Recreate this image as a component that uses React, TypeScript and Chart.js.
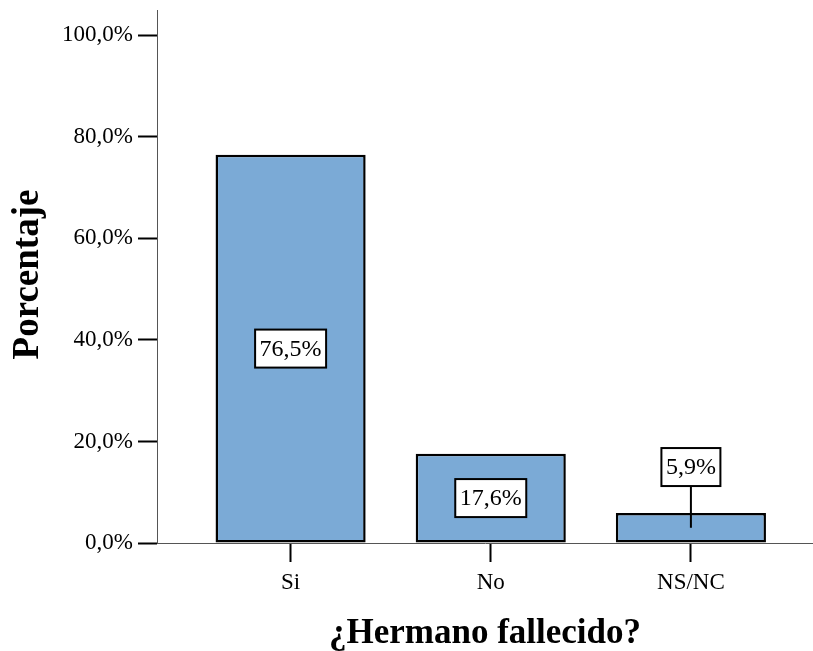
import React, { useEffect, useRef } from "react";
import { Chart, registerables } from "chart.js";

Chart.register(...registerables);

const categories = ["Si", "No", "NS/NC"];
const values = [76.5, 17.6, 5.9];
const valueLabels = ["76,5%", "17,6%", "5,9%"];
const yTicks = [0, 20, 40, 60, 80, 100];
const xTitle = "¿Hermano fallecido?";
const yTitle = "Porcentaje";

const FONT = "'Liberation Serif', 'Times New Roman', serif";

const labelPlugin = {
  id: "barLabels",
  afterDatasetsDraw(chart: any) {
    const ctx = chart.ctx;
    const meta = chart.getDatasetMeta(0);
    ctx.save();
    ctx.font = `24px ${FONT}`;
    ctx.textAlign = "center";
    ctx.textBaseline = "middle";
    meta.data.forEach((bar: any, i: number) => {
      const text = valueLabels[i];
      const tw = ctx.measureText(text).width;
      const w = tw + 9;
      const h = 38;
      const barH = bar.base - bar.y;
      const midY = (bar.y + bar.base) / 2;
      let cy = midY;
      if (barH < h + 10) {
        cy = bar.y - 46;
        ctx.strokeStyle = "#000";
        ctx.lineWidth = 2;
        ctx.beginPath();
        ctx.moveTo(bar.x, cy + h / 2);
        ctx.lineTo(bar.x, midY);
        ctx.stroke();
      }
      ctx.fillStyle = "#fff";
      ctx.fillRect(bar.x - w / 2, cy - h / 2, w, h);
      ctx.strokeStyle = "#000";
      ctx.lineWidth = 2;
      ctx.strokeRect(bar.x - w / 2, cy - h / 2, w, h);
      ctx.fillStyle = "#000";
      ctx.fillText(text, bar.x, cy + 1);
    });
    ctx.restore();
  },
};

const titlePlugin = {
  id: "axisTitles",
  afterDraw(chart: any) {
    const ctx = chart.ctx;
    const area = chart.chartArea;
    ctx.save();
    ctx.fillStyle = "#000";
    ctx.textAlign = "center";
    ctx.textBaseline = "alphabetic";
    ctx.font = `bold 35px ${FONT}`;
    ctx.fillText(xTitle, (area.left + area.right) / 2, 643);
    ctx.font = `bold 37px ${FONT}`;
    ctx.translate(38, (area.top + area.bottom) / 2 - 2);
    ctx.rotate(-Math.PI / 2);
    ctx.fillText(yTitle, 0, 0);
    ctx.restore();
  },
};

export default function App() {
  const ref = useRef<HTMLCanvasElement>(null);
  useEffect(() => {
    if (!ref.current) return;
    const chart = new Chart(ref.current, {
      type: "bar",
      data: {
        datasets: [
          {
            data: values.map((v, i) => ({ x: i + 1, y: v })),
            backgroundColor: "#7BAAD6",
            borderColor: "#000",
            borderWidth: 2.5,
            borderSkipped: false,
            barPercentage: 0.75,
            categoryPercentage: 1,
          },
        ],
      },
      options: {
        animation: false,
        responsive: false,
        events: [],
        layout: { padding: { top: 10, right: 0, left: 0, bottom: 0 } },
        plugins: { legend: { display: false }, tooltip: { enabled: false } },
        scales: {
          x: {
            type: "linear",
            min: 0.3325,
            max: 3.61,
            offset: false,
            afterBuildTicks: (s: any) => {
              s.ticks = categories.map((_, i) => ({ value: i + 1 }));
            },
            afterFit: (s: any) => {
              s.height = 108;
              s.paddingLeft = 0;
              s.paddingRight = 0;
            },
            ticks: {
              autoSkip: false,
              maxRotation: 0,
              padding: 7,
              color: "#000",
              font: { family: FONT, size: 23 },
              callback: (v: any) => categories[Math.round(v) - 1] ?? "",
            },
            grid: {
              offset: false,
              drawOnChartArea: false,
              drawTicks: true,
              tickLength: 19,
              tickColor: "#000",
              tickWidth: 2,
            },
            border: { display: true, color: "#555", width: 1 },
            title: { display: false },
          },
          y: {
            type: "linear",
            min: 0,
            max: 105,
            afterBuildTicks: (s: any) => {
              s.ticks = yTicks.map((v) => ({ value: v }));
            },
            afterFit: (s: any) => {
              s.width = 157;
              s.paddingTop = 0;
              s.paddingBottom = 0;
            },
            ticks: {
              padding: 5,
              color: "#000",
              font: { family: FONT, size: 23 },
              callback: (v: any) => Number(v).toFixed(1).replace(".", ",") + "%",
            },
            grid: {
              drawOnChartArea: false,
              drawTicks: true,
              tickLength: 19,
              tickColor: "#000",
              tickWidth: 2,
            },
            border: { display: true, color: "#555", width: 1 },
            title: { display: false },
          },
        },
      },
      plugins: [labelPlugin, titlePlugin],
    } as any);
    return () => chart.destroy();
  }, []);
  return (
    <div style={{ position: "absolute", left: 0, top: 0, width: 813, height: 651, background: "#fff" }}>
      <canvas ref={ref} width={813} height={651} style={{ display: "block" }} />
    </div>
  );
}
